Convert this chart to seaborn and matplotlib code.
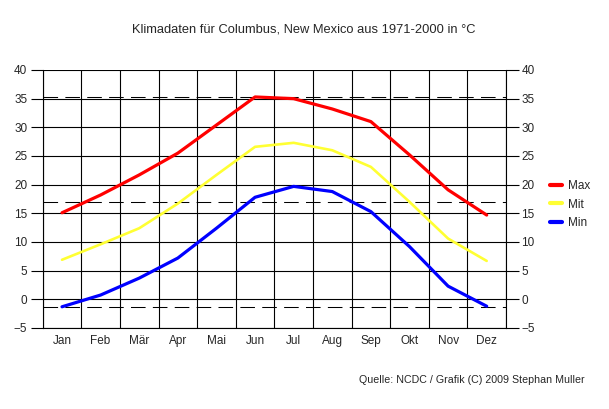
import pandas as pd
import numpy as np
import matplotlib
matplotlib.use("Agg")
import matplotlib.pyplot as plt
import seaborn as sns

months = ["Jan", "Feb", "Mär", "Apr", "Mai", "Jun", "Jul", "Aug", "Sep", "Okt", "Nov", "Dez"]
t_max = [15.1, 18.2, 21.7, 25.5, 30.4, 35.3, 35.0, 33.2, 31.0, 25.2, 19.1, 14.7]
t_mit = [6.9, 9.6, 12.4, 16.7, 21.7, 26.6, 27.3, 26.0, 23.1, 17.0, 10.6, 6.7]
t_min = [-1.3, 0.75, 3.7, 7.2, 12.4, 17.8, 19.7, 18.8, 15.3, 9.2, 2.3, -1.2]
series = ["Max", "Mit", "Min"]
colors = {"Max": "#ff0000", "Mit": "#ffff33", "Min": "#0000ff"}
widths = {"Max": 2.3, "Mit": 1.9, "Min": 2.3}

df = pd.DataFrame({
    "Monat": months * 3,
    "Temp": t_max + t_mit + t_min,
    "Reihe": ["Max"] * 12 + ["Mit"] * 12 + ["Min"] * 12,
})
df["pos"] = df["Monat"].map({m: i for i, m in enumerate(months)})

sns.set_style("white")
plt.rcParams["font.family"] = ["Liberation Sans", "DejaVu Sans"]

fig = plt.figure(figsize=(6.09, 4.09), dpi=100)
ax = fig.add_axes([42.7 / 609, 1 - 328 / 409, (506 - 42.7) / 609, (328 - 70) / 409])

# reference lines: highest max, annual mean, lowest min
for v in [max(t_max), np.mean(t_mit), min(t_min)]:
    ax.axhline(v, color="black", lw=0.75, ls=(0, (14, 7)), zorder=1)

for s in series:
    sub = df[df["Reihe"] == s]
    sns.lineplot(data=sub, x="pos", y="Temp", color=colors[s], lw=widths[s],
                 label=s, ax=ax, zorder=3)

ax.set_xlim(-0.5, 11.5)
ax.set_ylim(-5, 40)
ax.set_yticks(np.arange(-5, 41, 5))
ax.set_xticks(np.arange(-0.5, 12, 1))
ax.set_xticklabels([])
ax.set_xticks(np.arange(12), minor=True)
ax.set_xticklabels(months, minor=True)
ax.grid(True, axis="both", which="major", color="black", lw=0.8)
ax.tick_params(axis="x", which="major", direction="out", length=12, width=0.8, color="black")
ax.tick_params(axis="x", which="minor", length=0, pad=5, labelsize=8.5)
ax.tick_params(axis="y", direction="out", length=9, width=0.8, color="black",
               left=True, right=True, labelleft=True, labelright=True, labelsize=8.5, pad=2)
ax.set_xlabel("")
ax.set_ylabel("")
for sp in ax.spines.values():
    sp.set_color("black")
    sp.set_linewidth(0.8)
ax.spines["top"].set_visible(False)

handles, labels = ax.get_legend_handles_labels()
ax.get_legend().remove()
leg = fig.legend(handles, labels, loc="center left", bbox_to_anchor=(550 / 609, 1 - 204.5 / 409),
                 frameon=False, fontsize=8.5, handlelength=1.0, handletextpad=0.55,
                 labelspacing=0.55, borderpad=0, borderaxespad=0)
for line in leg.get_lines():
    line.set_linewidth(3)

fig.text(303.5 / 609, 1 - 30 / 409, "Klimadaten für Columbus, New Mexico aus 1971-2000 in °C",
         ha="center", va="center", fontsize=9.3)
fig.text(585 / 609, 1 - 380 / 409, "Quelle: NCDC / Grafik (C) 2009 Stephan Muller",
         ha="right", va="center", fontsize=7.7)

fig.savefig("out.png", dpi=100, facecolor="white")
